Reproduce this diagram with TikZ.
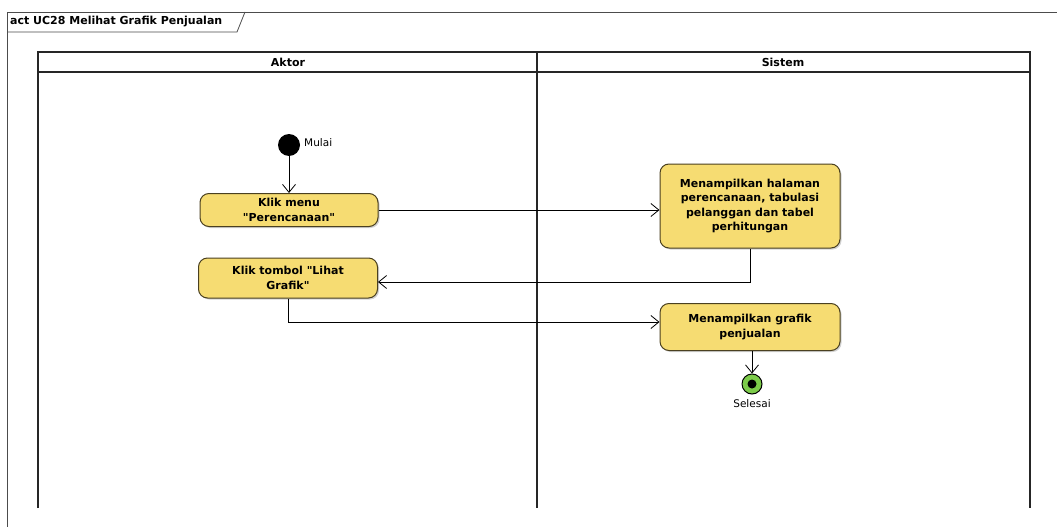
\documentclass[tikz,border=0pt]{standalone}
\usepackage{fontspec}
\setmainfont{DejaVu Sans}
\usetikzlibrary{arrows.meta,positioning,shadows}
\definecolor{actfill}{HTML}{F6DC72}
\definecolor{actdraw}{HTML}{4A4020}
\definecolor{endgreen}{HTML}{7CCB4A}
\tikzset{
  act/.style={draw=actdraw, line width=1pt, fill=actfill, rounded corners=9pt,
    align=center, font=\bfseries\fontsize{11}{14.5}\selectfont, inner sep=2pt,
    drop shadow={shadow xshift=1.5pt, shadow yshift=-1.5pt, opacity=0.35}},
  flow/.style={draw=black, line width=0.8pt, -{Straight Barb[length=8pt,width=13pt,line width=0.8pt]}},
  lane/.style={draw=black!85, line width=1.3pt},
  lbl/.style={font=\fontsize{10.5}{12}\selectfont, inner sep=1pt}
}
\newcommand{\dq}{\textquotedbl}
\begin{document}
\begin{tikzpicture}[x=1pt,y=-1pt]
\useasboundingbox (0,0) rectangle (1057,527);
\fill[white] (0,0) rectangle (1057,527);
% frame
\draw[black!70, line width=0.8pt] (7,527) -- (7,12) -- (1057,12);
\draw[black!70, line width=0.8pt] (7,32) -- (237,32) -- (245,12);
\node[anchor=west, font=\bfseries\fontsize{11}{11}\selectfont, inner sep=0pt] (title) at (10,22) {act UC28 Melihat Grafik Penjualan};
% swimlanes
\draw[lane] (38,508) -- (38,52) -- (1030,52) -- (1030,508);
\draw[lane] (537,52) -- (537,508);
\draw[lane] (38,72) -- (1030,72);
\node[font=\bfseries\fontsize{11}{11}\selectfont] (aktor) at (288,62) {Aktor};
\node[font=\bfseries\fontsize{11}{11}\selectfont] (sistem) at (783,62) {Sistem};
% nodes
\node[circle, fill=black, minimum size=22pt, inner sep=0pt] (start) at (289,145) {};
\node[lbl, anchor=west] (mulai) at (303,143) {Mulai};
\node[act, minimum width=178pt, minimum height=33pt] (a1) at (289,210) {Klik menu\\\dq Perencanaan\dq};
\node[act, minimum width=180pt, minimum height=84pt] (a2) at (750,206) {Menampilkan halaman\\perencanaan, tabulasi\\pelanggan dan tabel\\perhitungan};
\node[act, minimum width=179pt, minimum height=40pt] (a3) at (288,278) {Klik tombol \dq Lihat\\Grafik\dq};
\node[act, minimum width=180pt, minimum height=47pt] (a4) at (750,327) {Menampilkan grafik\\penjualan};
\node[circle, draw=black, line width=1pt, fill=endgreen, minimum size=20pt, inner sep=0pt] (end) at (752,384) {};
\fill[black] (end.center) circle (4.5pt);
\node[lbl, anchor=north] (selesai) at (752,398) {Selesai};
% flows
\draw[flow] (start) -- (a1);
\draw[flow] (a1.east) -- (a2.west |- a1.east);
\draw[flow] (a2.south) |- (a3.east |- 0,282);
\draw[flow] (a3.south) |- (a4.west |- 0,322);
\draw[flow] (a4.south -| end.north) -- (end.north);
\end{tikzpicture}
\end{document}
